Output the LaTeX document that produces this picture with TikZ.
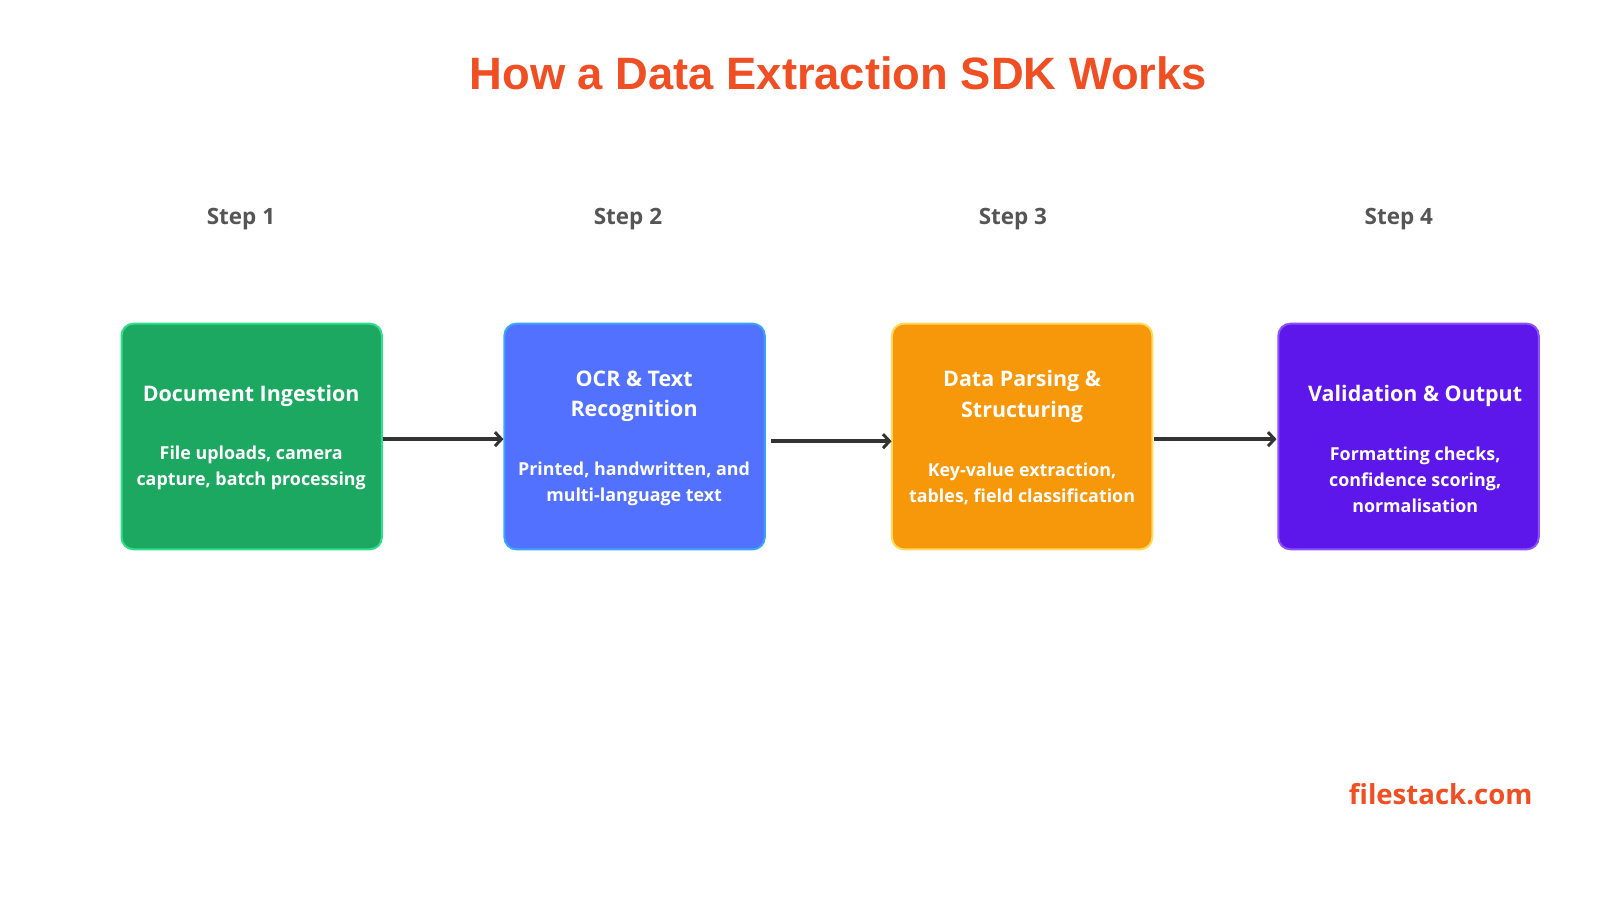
\documentclass[tikz,border=0pt]{standalone}
\usepackage{fontspec}
\setmainfont{Open Sans}
\newfontfamily\titlefont{Liberation Sans}
\usetikzlibrary{arrows.meta}
\definecolor{titlered}{HTML}{F04E23}
\definecolor{stepgray}{HTML}{555555}
\definecolor{arrowgray}{HTML}{333333}
\definecolor{gfill}{HTML}{1DA862}
\definecolor{gline}{HTML}{2EE08C}
\definecolor{bfill}{HTML}{5271FF}
\definecolor{bline}{HTML}{38A6FF}
\definecolor{ofill}{HTML}{F7970A}
\definecolor{oline}{HTML}{FFD95A}
\definecolor{pfill}{HTML}{5E17EB}
\definecolor{pline}{HTML}{8C52FF}
\tikzset{
  card/.style={rounded corners=12pt, line width=2pt, minimum width=255pt, minimum height=221pt, inner sep=0pt},
  cardtitle/.style={text=white, font=\fontsize{21}{30}\selectfont\bfseries, align=center, inner sep=0pt},
  cardbody/.style={text=white, font=\fontsize{17.5}{25.5}\selectfont\bfseries, align=center, inner sep=0pt},
  steplabel/.style={text=stepgray, font=\fontsize{22}{26}\selectfont\bfseries, inner sep=0pt},
  flow/.style={draw=arrowgray, line width=3.5pt, -{Straight Barb[length=6.5pt,width=14pt,line width=3pt]}}
}
\begin{document}
\begin{tikzpicture}[x=1pt,y=-1pt,scale=1.0218,every node/.append style={transform shape}]
\useasboundingbox (0,0) rectangle (1567,881.4);
\fill[white] (0,0) rectangle (1567,881.4);
\node[text=titlered, font=\titlefont\fontsize{44.4}{50}\selectfont\bfseries, inner sep=0pt] (title) at (821,72) {How a Data Extraction SDK Works};

\node[steplabel] (s1) at (236,215) {Step 1};
\node[steplabel] (s2) at (615,215) {Step 2};
\node[steplabel] (s3) at (992,215) {Step 3};
\node[steplabel] (s4) at (1370,215) {Step 4};

\node[card, fill=gfill, draw=gline] (b1) at (246.5,427.5) {};
\node[card, fill=bfill, draw=bline] (b2) at (621.5,427.5) {};
\node[card, fill=ofill, draw=oline] (b3) at (1001,427.5) {};
\node[card, fill=pfill, draw=pline] (b4) at (1379.5,427.5) {};

\node[cardtitle] (t1) at (246,388) {Document Ingestion};
\node[cardbody] (d1) at (246,458) {File uploads, camera\\capture, batch processing};

\node[cardtitle] (t2) at (621,388) {OCR \& Text\\Recognition};
\node[cardbody] (d2) at (621,474) {Printed, handwritten, and\\multi-language text};

\node[cardtitle] (t3) at (1001,388) {Data Parsing \&\\Structuring};
\node[cardbody] (d3) at (1001,474) {Key-value extraction,\\tables, field classification};

\node[cardtitle] (t4) at (1386,388) {Validation \& Output};
\node[cardbody] (d4) at (1386,470) {Formatting checks,\\confidence scoring,\\normalisation};

\coordinate (a1s) at (375,430); \coordinate (a1e) at (493,430);
\coordinate (a2s) at (755,432); \coordinate (a2e) at (873,432);
\coordinate (a3s) at (1130,430); \coordinate (a3e) at (1250,430);
\draw[flow] (a1s) -- (a1e);
\draw[flow] (a2s) -- (a2e);
\draw[flow] (a3s) -- (a3e);

\node[text=titlered, font=\fontsize{27}{32}\selectfont\bfseries, inner sep=0pt] (brand) at (1411,778) {filestack.com};
\end{tikzpicture}
\end{document}
